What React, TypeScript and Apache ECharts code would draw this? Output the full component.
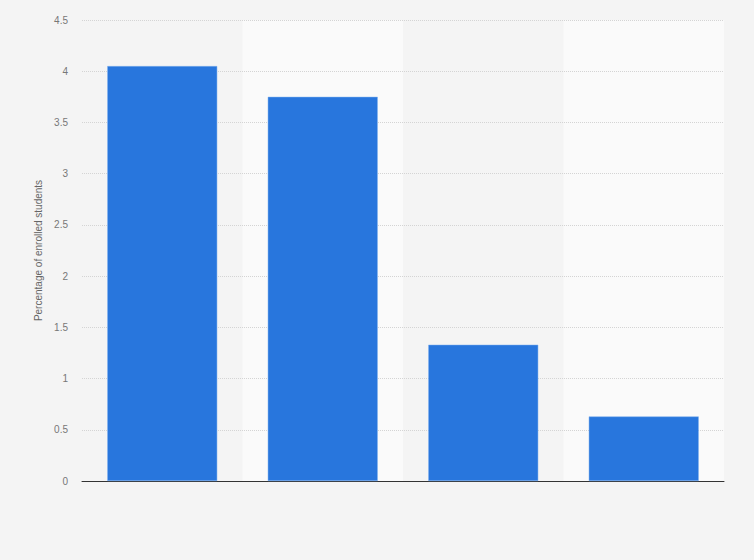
import React, { useEffect, useRef } from 'react';
import * as echarts from 'echarts';

const categories = ['Group 1', 'Group 2', 'Group 3', 'Group 4'];
const shares = [4.05, 3.75, 1.33, 0.63];
const yTicks = { min: 0, max: 4.5, interval: 0.5 };

const App: React.FC = () => {
  const chartRef = useRef<HTMLDivElement>(null);

  useEffect(() => {
    document.body.style.margin = '0';
    if (!chartRef.current) return;
    const chart = echarts.init(chartRef.current, null, { renderer: 'svg' });

    chart.setOption({
      animation: false,
      backgroundColor: '#f4f4f4',
      textStyle: { fontFamily: 'Arial, "Liberation Sans", sans-serif' },
      grid: { left: 82, right: 30, top: 20, bottom: 79 },
      xAxis: {
        type: 'category',
        data: categories,
        z: 0,
        axisLabel: { show: false },
        axisTick: { show: false },
        axisLine: { lineStyle: { color: '#333', width: 1 } },
        splitArea: { show: true, areaStyle: { color: ['#f4f4f4', '#fafafa'] } },
      },
      yAxis: {
        type: 'value',
        z: 1,
        min: yTicks.min,
        max: yTicks.max,
        interval: yTicks.interval,
        name: 'Percentage of enrolled students',
        nameLocation: 'middle',
        nameGap: 38,
        nameTextStyle: { color: '#666', fontSize: 10 },
        axisLabel: { color: '#777', fontSize: 10, margin: 14 },
        axisLine: { show: false },
        axisTick: { show: false },
        splitLine: { showMinLine: false, lineStyle: { color: '#d4d4d4', type: 'dotted' } },
      },
      series: [
        {
          type: 'bar',
          data: shares,
          z: 2,
          barWidth: '68.5%',
          itemStyle: { color: '#2876dd', borderColor: '#7fb0ef', borderWidth: 0.5 },
        },
      ],
    });

    return () => {
      chart.dispose();
    };
  }, []);

  return <div ref={chartRef} style={{ width: '754px', height: '560px' }} />;
};

export default App;
